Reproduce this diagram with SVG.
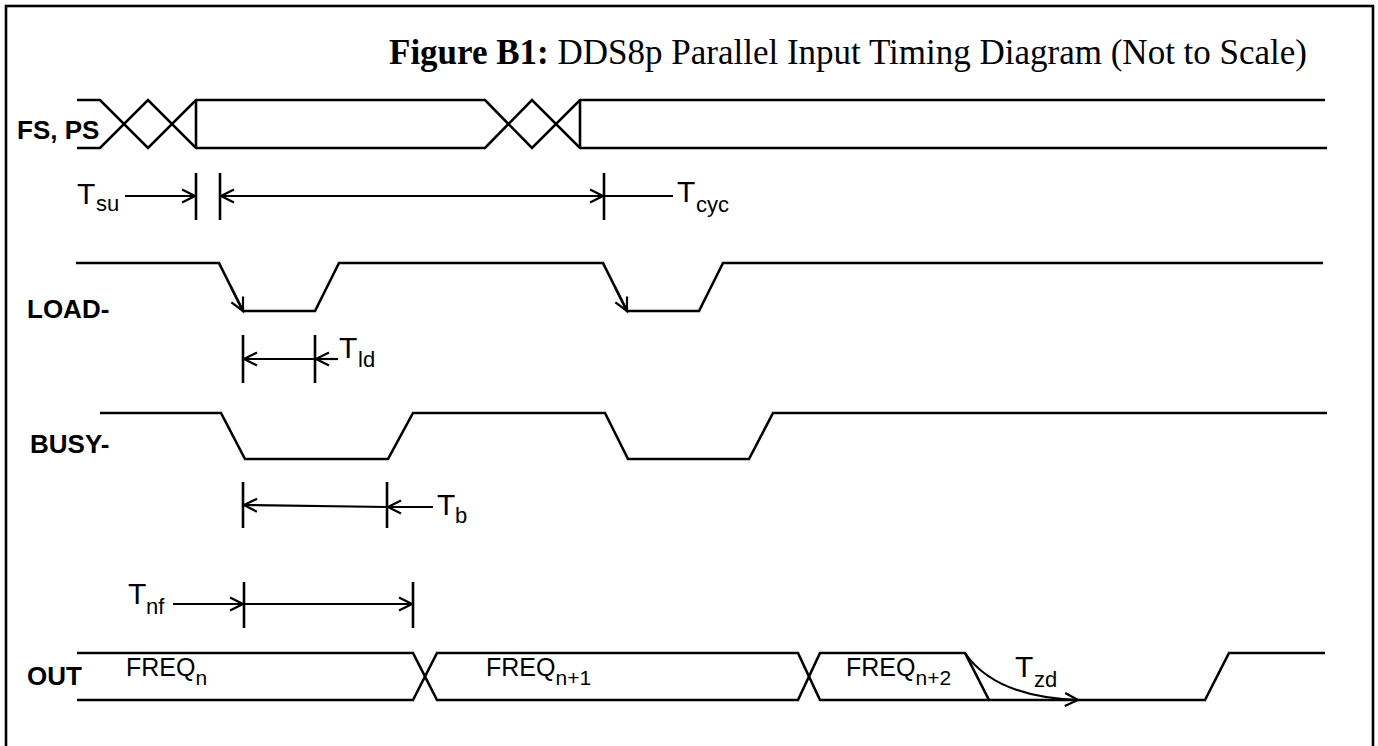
<svg xmlns="http://www.w3.org/2000/svg" width="1378" height="746" viewBox="0 0 1378 746">
<style>
.wave{fill:none;stroke:#000;stroke-width:2.6;stroke-linejoin:miter}
.dim{fill:none;stroke:#000;stroke-width:2.2}
.tick{fill:none;stroke:#000;stroke-width:2.6}
.sig{font-family:"Liberation Sans",Arial,sans-serif;font-weight:bold;font-size:26px;fill:#000}
.tm{font-family:"Liberation Sans",Arial,sans-serif;font-size:30px;fill:#000}
.sub{font-family:"Liberation Sans",Arial,sans-serif;font-size:22px;fill:#000}
.fq{font-family:"Liberation Sans",Arial,sans-serif;font-size:25px;fill:#000}
.title{font-family:"Liberation Serif","Times New Roman",serif;font-size:35px;fill:#000}
</style>
<defs>
<marker id="arr" markerUnits="userSpaceOnUse" markerWidth="16" markerHeight="16" refX="13" refY="7" orient="auto" overflow="visible">
<path d="M0,0.5 L13,7 L0,13.5" fill="none" stroke="#000" stroke-width="2.2"/>
</marker>
</defs>
<rect x="0" y="0" width="1378" height="746" fill="#fff"/>
<rect id="frame" x="6" y="6" width="1367" height="760" fill="none" stroke="#000" stroke-width="2.6"/>
<g id="title">
<text class="title" x="389" y="64"><tspan font-weight="bold">Figure B1:</tspan> DDS8p Parallel Input Timing Diagram (Not to Scale)</text>
</g>
<g id="fs-ps">
<text class="sig" x="17" y="139">FS, PS</text>
<path class="wave" d="M77,100 H100 L148,148 L196,100 H485 L532,148 L580,100 H1325"/>
<path class="wave" d="M77,148 H100 L148,100 L196,148 H485 L532,100 L580,148 H1327"/>
<path class="wave" d="M196,100 V148 M580,100 V148"/>
</g>
<g id="load">
<text class="sig" x="27" y="318">LOAD-</text>
<path class="wave" d="M76,263 H219 L243,311 H315 L339,263 H603 L627,311 H699 L723,263 H1323"/>
</g>
<g id="busy">
<text class="sig" x="30" y="453">BUSY-</text>
<path class="wave" d="M100,413 H221 L245,459 H388 L413,413 H605 L628,459 H749 L773,413 H1327"/>
</g>
<g id="out">
<text class="sig" x="27" y="685">OUT</text>
<path class="wave" d="M77,653 H413 L437,700 H798 L820,653 H965 L989,700 H1205 L1229,653 H1325"/>
<path class="wave" d="M77,700 H413 L437,653 H798 L820,700 H989"/>
<text class="fq" x="126" y="676">FREQ<tspan dy="9" font-size="21">n</tspan></text>
<text class="fq" x="486" y="676">FREQ<tspan dy="9" font-size="21">n+1</tspan></text>
<text class="fq" x="846" y="676">FREQ<tspan dy="9" font-size="21">n+2</tspan></text>
</g>
<g id="labels">
<text class="tm" x="77" y="204">T</text><text class="sub" x="96" y="211">su</text>
<text class="tm" x="677" y="202">T</text><text class="sub" x="696" y="212">cyc</text>
<text class="tm" x="339" y="358">T</text><text class="sub" x="358" y="367">ld</text>
<text class="tm" x="437" y="515">T</text><text class="sub" x="455" y="523">b</text>
<text class="tm" x="128" y="604">T</text><text class="sub" x="146" y="614">nf</text>
<text class="tm" x="1015" y="677">T</text><text class="sub" x="1034" y="687">zd</text>
</g>
<g id="connectors">
<path class="tick" d="M196,173 V220 M220,173 V220 M604,173 V220"/>
<path class="dim" d="M125,196 H195" marker-end="url(#arr)"/>
<path class="dim" d="M604,196 H221" marker-end="url(#arr)"/>
<path class="dim" d="M220,196 H603" marker-end="url(#arr)"/>
<path class="dim" d="M604,196 H673"/>
<path class="dim" d="M231,287 L243,311" marker-end="url(#arr)"/>
<path class="dim" d="M615,287 L627,311" marker-end="url(#arr)"/>
<path class="tick" d="M243,335 V383 M315,335 V383"/>
<path class="dim" d="M315,359 H244" marker-end="url(#arr)"/>
<path class="dim" d="M338,359 H316" marker-end="url(#arr)"/>
<path class="tick" d="M243,482 V528 M387,482 V528"/>
<path class="dim" d="M387,507 L244,505" marker-end="url(#arr)"/>
<path class="dim" d="M433,507 H388" marker-end="url(#arr)"/>
<path class="tick" d="M244,582 V628 M413,582 V628"/>
<path class="dim" d="M173,604 H243" marker-end="url(#arr)"/>
<path class="dim" d="M244,604 H412" marker-end="url(#arr)"/>
<path class="dim" d="M965,653 Q995,697 1078,700" marker-end="url(#arr)"/>
</g>
</svg>
